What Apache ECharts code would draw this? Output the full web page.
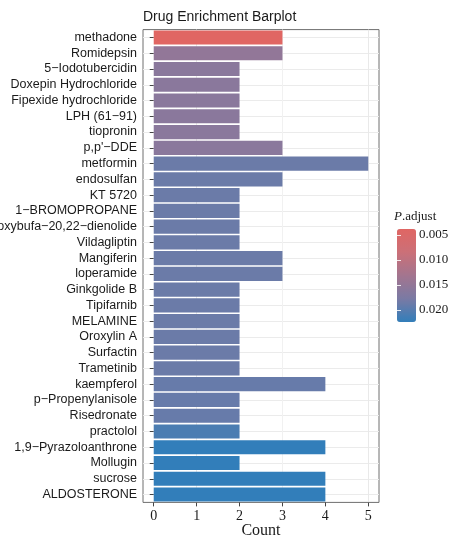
<!DOCTYPE html>
<html>
<head>
<meta charset="utf-8">
<script src="https://cdn.jsdelivr.net/npm/echarts@6/dist/echarts.min.js"></script>
<style>
  html, body { margin: 0; padding: 0; background: #fff; }
  #chart { width: 452px; height: 537px; }
</style>
</head>
<body>
<div id="chart"></div>
<script>
// Drug names, top to bottom
const categories = [
  'methadone', 'Romidepsin', '5\u2212Iodotubercidin', 'Doxepin Hydrochloride',
  'Fipexide hydrochloride', 'LPH (61\u221291)', 'tiopronin', 'p,p\'\u2212DDE',
  'metformin', 'endosulfan', 'KT 5720', '1\u2212BROMOPROPANE',
  '14\u2212Hydroxybufa\u221220,22\u2212dienolide', 'Vildagliptin', 'Mangiferin', 'loperamide',
  'Ginkgolide B', 'Tipifarnib', 'MELAMINE', 'Oroxylin A', 'Surfactin', 'Trametinib',
  'kaempferol', 'p\u2212Propenylanisole', 'Risedronate', 'practolol',
  '1,9\u2212Pyrazoloanthrone', 'Mollugin', 'sucrose', 'ALDOSTERONE'
];

// Gene count per drug
const counts = [
  3, 3, 2, 2, 2, 2, 2, 3,
  5, 3, 2, 2, 2, 2, 3, 3,
  2, 2, 2, 2, 2, 2,
  4, 2, 2, 2,
  4, 2, 4, 4
];

// Adjusted p-value per drug (drives the fill colour)
const pAdjust = [
  0.0038, 0.0150, 0.0159, 0.0159, 0.0159, 0.0159, 0.0159, 0.0159,
  0.0187, 0.0187, 0.0187, 0.0187, 0.0187, 0.0187, 0.0187, 0.0187,
  0.0187, 0.0187, 0.0187, 0.0187, 0.0187, 0.0187,
  0.0190, 0.0190, 0.0190, 0.0208,
  0.0224, 0.0224, 0.0224, 0.0224
];

// Tick labels
const countTicks = [0, 1, 2, 3, 4, 5];
const pTicks = [0.005, 0.010, 0.015, 0.020];

const pMin = 0.0038;
const pMax = 0.0224;

const SANS = "'Liberation Sans', Arial, Helvetica, sans-serif";
const SERIF = "'Liberation Serif', 'Times New Roman', serif";
const INK = '#1a1a1a';

const chart = echarts.init(document.getElementById('chart'), null, { renderer: 'canvas' });

const seriesData = categories.map((name, i) => [counts[i], name, pAdjust[i]]);

chart.setOption({
  animation: false,
  backgroundColor: '#ffffff',
  title: [
    {
      text: 'Drug Enrichment Barplot',
      left: 143, top: 10, padding: 0,
      textStyle: { fontFamily: SANS, fontSize: 14, fontWeight: 'normal', color: INK }
    },
    {
      text: '{i|P}.adjust',
      left: 394, top: 210, padding: 0,
      textStyle: {
        fontFamily: SERIF, fontSize: 13, fontWeight: 'normal', color: INK,
        rich: { i: { fontFamily: SERIF, fontSize: 13, fontStyle: 'italic', color: INK } }
      }
    }
  ],
  grid: [
    {
      left: 143, top: 29.6, width: 236, height: 472.8,
      containLabel: false, outerBoundsMode: 'none',
      show: true, backgroundColor: '#ffffff', borderColor: '#6e6e6e', borderWidth: 1
    },
    { left: 397, top: 229, width: 19, height: 93, containLabel: false, outerBoundsMode: 'none' }
  ],
  xAxis: [
    {
      gridIndex: 0, type: 'value', min: -0.25, max: 5.25, interval: 0.25,
      name: 'Count', nameLocation: 'middle', nameGap: 20, nameMoveOverlap: false,
      nameTextStyle: { fontFamily: SERIF, fontSize: 16, color: INK },
      axisLine: { show: false },
      axisTick: { show: true, customValues: countTicks, length: 4, lineStyle: { color: '#444' } },
      axisLabel: { customValues: countTicks, fontFamily: SERIF, fontSize: 14, color: INK, margin: 7 },
      splitLine: {
        show: true,
        lineStyle: { color: ['rgba(0,0,0,0)', '#e9e9e9', 'rgba(0,0,0,0)', '#f1f1f1'], width: 1 }
      }
    },
    { gridIndex: 1, type: 'value', show: false, min: 0, max: 1 }
  ],
  yAxis: [
    {
      gridIndex: 0, type: 'category', data: categories, inverse: true,
      axisLine: { show: false },
      axisTick: { show: true, alignWithLabel: true, interval: 0, length: 4, lineStyle: { color: '#444' } },
      axisLabel: { interval: 0, hideOverlap: false, fontFamily: SANS, fontSize: 12.5, color: INK, margin: 6 },
      splitLine: { show: true, alignWithLabel: true, interval: 0, lineStyle: { color: '#ebebeb', width: 1 } }
    },
    {
      gridIndex: 1, type: 'value', min: pMin, max: pMax, inverse: true, position: 'right', z: 10,
      axisLine: { show: false },
      splitLine: { show: false },
      axisTick: { show: true, customValues: pTicks, inside: true, length: 4, lineStyle: { color: 'rgba(255,255,255,0.85)', width: 1 } },
      axisLabel: { customValues: pTicks, formatter: v => v.toFixed(3), fontFamily: SERIF, fontSize: 13, color: INK, margin: 3 }
    },
    {
      gridIndex: 1, type: 'value', min: pMin, max: pMax, inverse: true, position: 'left', z: 10,
      axisLine: { show: false },
      splitLine: { show: false },
      axisTick: { show: true, customValues: pTicks, inside: true, length: 4, lineStyle: { color: 'rgba(255,255,255,0.85)', width: 1 } },
      axisLabel: { show: false }
    }
  ],
  visualMap: {
    type: 'continuous',
    seriesIndex: 0,
    dimension: 2,
    min: pMin,
    max: pMax,
    inverse: true,
    orient: 'vertical',
    left: 397, top: 229,
    itemWidth: 19, itemHeight: 93,
    padding: 0,
    calculable: false,
    hoverLink: false,
    text: null,
    inRange: { color: ['#e06663', '#cb7078', '#a3758f', '#7a7aa4', '#327eba'] }
  },
  series: [
    {
      type: 'bar',
      xAxisIndex: 0, yAxisIndex: 0,
      data: seriesData,
      encode: { x: 0, y: 1 },
      barCategoryGap: '10%',
      itemStyle: { borderWidth: 0 }
    }
  ]
});
</script>
</body>
</html>
